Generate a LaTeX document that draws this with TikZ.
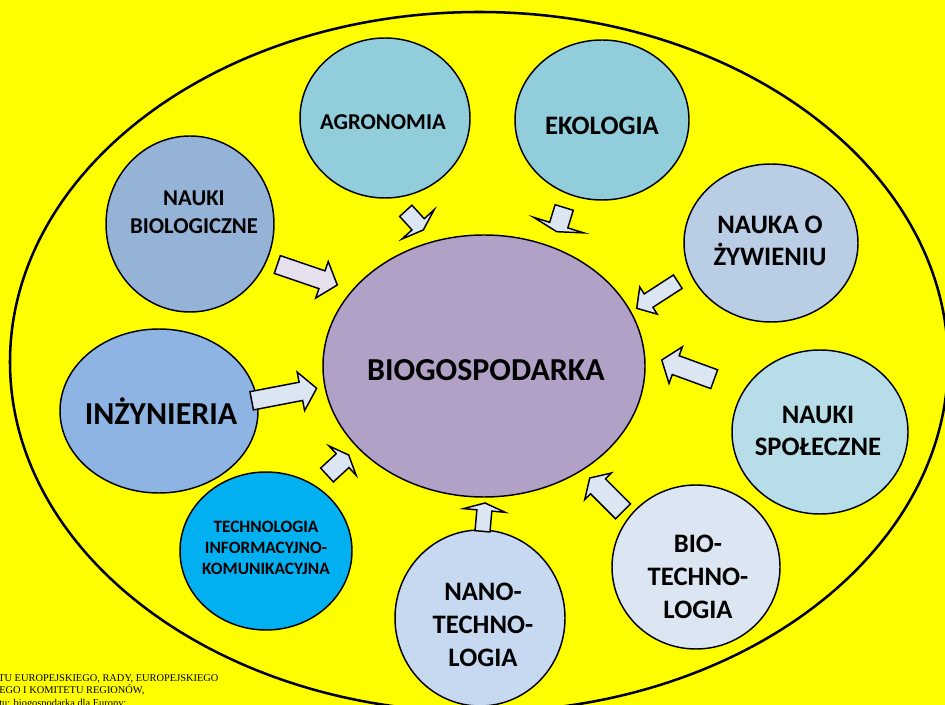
\documentclass[tikz,border=0pt]{standalone}
\usepackage{fontspec}
\setmainfont{Carlito}
\newfontfamily\serifcap{Liberation Serif}
\usetikzlibrary{shapes.geometric}
\definecolor{bgyellow}{HTML}{FFFF00}
\definecolor{biogo}{HTML}{B2A1C7}
\definecolor{teal1}{HTML}{92CDDC}
\definecolor{steel}{HTML}{95B3D7}
\definecolor{inzyn}{HTML}{8EB4E3}
\definecolor{zyw}{HTML}{B9CDE5}
\definecolor{spol}{HTML}{B7DEE8}
\definecolor{tik}{HTML}{00B0F0}
\definecolor{biot}{HTML}{DCE6F2}
\definecolor{nano}{HTML}{C6D9F1}
\definecolor{arrblue}{HTML}{DCE6F2}
\definecolor{arrlav}{HTML}{E6E0EC}
\tikzset{
  bubble/.style={ellipse, draw=black, line width=1.1pt, inner sep=0pt},
  esz/.style 2 args={minimum width={#1*1.5pt}, minimum height={#2*1.5pt}},
  lbl/.style={font=\bfseries\fontsize{20}{24.5}\selectfont, align=center, text=black, inner sep=0pt},
  lblsm/.style={font=\bfseries\fontsize{17}{21}\selectfont, align=center, text=black, inner sep=0pt},
  lbltiny/.style={font=\bfseries\fontsize{13}{15.8}\selectfont, align=center, text=black, inner sep=0pt},
  barrow/.style={draw=black, line width=1.1pt, line join=miter},
  capt/.style={font=\serifcap\fontsize{7.8}{9}\selectfont, anchor=base west, inner sep=0pt, text=black},
}
\newcommand\blockarr[8][arrblue]{%
  \pgfmathsetmacro{\bdx}{#4-#2}%
  \pgfmathsetmacro{\bdy}{#5-#3}%
  \pgfmathsetmacro{\bang}{atan2(\bdy,\bdx)}%
  \pgfmathsetmacro{\blen}{veclen(\bdx,\bdy)}%
  \pgfmathsetmacro{\bbase}{\blen-#8}%
  \begin{scope}[shift={(#2,#3)}, rotate=-\bang]
    \draw[barrow, fill=#1] (0,-#6) -- (\bbase,-#6) -- (\bbase,-#7) -- (\blen,0)
      -- (\bbase,#7) -- (\bbase,#6) -- (0,#6) -- cycle;
  \end{scope}}
\begin{document}
\begin{tikzpicture}[x=0.75pt, y=-0.75pt]
\useasboundingbox (0,0) rectangle (945,705);
\fill[bgyellow] (0,0) rectangle (945,705);
% outer ellipse
\node[ellipse, draw=black, line width=1.9pt, inner sep=0pt, esz={469}{350}] (outer) at (479,362) {};
% centre
\node[bubble, fill=biogo, esz={161}{131}] (bio) at (484,366) {};
\node[lbl, font=\bfseries\fontsize{24}{28}\selectfont] (biot) at (486,370) {BIOGOSPODARKA};
% satellites
\node[bubble, fill=teal1, esz={85}{80}] (agro) at (385,118) {};
\node[lblsm] (agrot) at (383,122) {AGRONOMIA};
\node[bubble, fill=teal1, esz={87}{80}] (eko) at (602,120) {};
\node[lbl] (ekot) at (602,126) {EKOLOGIA};
\node[bubble, fill=steel, esz={84}{88}] (nbio) at (190,224) {};
\node[lblsm] (nbiot) at (194,212) {NAUKI\\BIOLOGICZNE};
\node[bubble, fill=zyw, esz={87}{79}] (zyw) at (771,243) {};
\node[lbl] (zywt) at (770,241) {NAUKA O\\ŻYWIENIU};
\node[bubble, fill=inzyn, esz={99}{82}] (inz) at (159,411) {};
\node[lbl, font=\bfseries\fontsize{24}{28}\selectfont] (inzt) at (161,411) {INŻYNIERIA};
\node[bubble, fill=spol, esz={88}{82}] (spol) at (820,432) {};
\node[lbl] (spolt) at (818,431) {NAUKI\\SPOŁECZNE};
\node[bubble, fill=tik, esz={86}{79}] (tik) at (266,551) {};
\node[lbltiny] (tikt) at (266,548) {TECHNOLOGIA\\INFORMACYJNO-\\KOMUNIKACYJNA};
\node[bubble, fill=biot, esz={84}{82}] (biote) at (696,567) {};
\node[lbl] (biotet) at (698,577) {BIO-\\TECHNO-\\LOGIA};
\node[bubble, fill=nano, esz={85}{88}] (nano) at (480,618) {};
\node[lbl] (nanot) at (483,625) {NANO-\\TECHNO-\\LOGIA};
% block arrows
\blockarr[arrlav]{277.3}{264.5}{337.3}{285}{9.4}{19.3}{16.2}
\blockarr{405.8}{210.8}{423.3}{230}{8.3}{21.9}{7.7}
\blockarr{564.2}{207.5}{556.7}{231.7}{9.5}{26.3}{6.9}
\blockarr{677.8}{281.7}{636.7}{308.3}{8}{16.2}{14.1}
\blockarr{714.2}{379.2}{661.7}{360}{10}{19.5}{14.9}
\blockarr{623}{511.3}{589.7}{478}{10.6}{18.9}{11.8}
\blockarr{482.5}{531.3}{485}{503}{7.5}{21}{7.5}
\blockarr{327}{475}{348.7}{455}{9.4}{20}{8.3}
\blockarr{251.7}{400.8}{316.7}{388.3}{9.3}{19.6}{16.1}
% caption (cut off at the page edges, as in the reference)
\node[capt] (c1) at (-2,681) {TU EUROPEJSKIEGO, RADY, EUROPEJSKIEGO};
\node[capt] (c2) at (-1,693.5) {EGO I KOMITETU REGIONÓW,};
\node[capt] (c3) at (-1,706) {tu: biogospodarka dla Europy:};
\end{tikzpicture}
\end{document}
